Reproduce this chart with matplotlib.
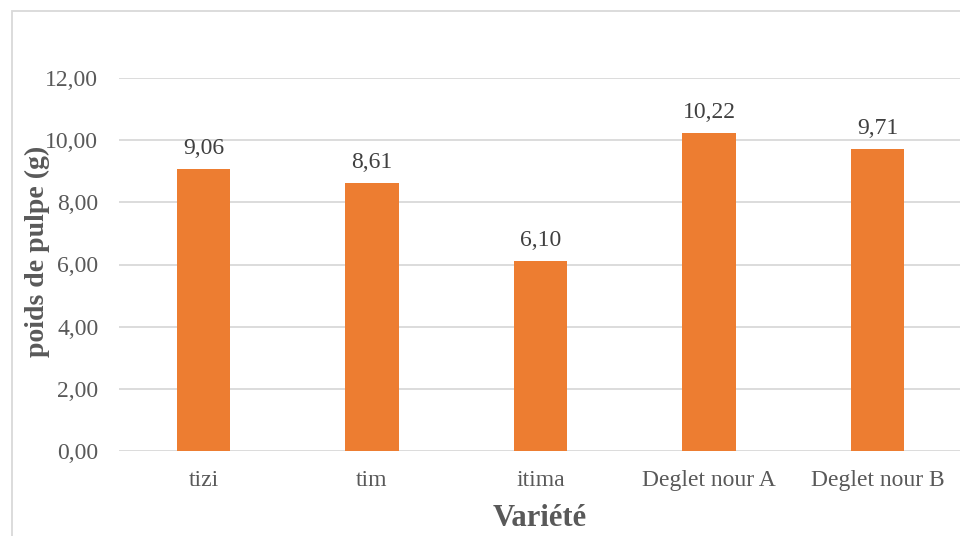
import matplotlib
matplotlib.use('Agg')
import matplotlib.pyplot as plt
from matplotlib.patches import Rectangle

# police type Times (Liberation Serif)
plt.rcParams['font.family'] = ['Liberation Serif', 'DejaVu Serif']

varietes = ['tizi', 'tim', 'itima', 'Deglet nour A', 'Deglet nour B']
poids = [9.06, 8.61, 6.10, 10.22, 9.71]
yticks = [0, 2, 4, 6, 8, 10, 12]

ORANGE = '#ED7D31'
GRIS_TXT = '#595959'
GRIS_GRILLE = '#D9D9D9'

W, H = 960, 536
fig = plt.figure(figsize=(W / 100, H / 100), dpi=100)
fig.patch.set_facecolor('white')

# zone de trace (en pixels -> fractions)
x0, x1 = 119.25, 961.75
y0, y1 = 451, 78
ax = fig.add_axes([x0 / W, 1 - y0 / H, (x1 - x0) / W, (y0 - y1) / H])

pos = list(range(len(varietes)))
ax.bar(pos, poids, width=0.315, color=ORANGE, zorder=3)

ax.set_xlim(-0.5, len(varietes) - 0.5)
ax.set_ylim(0, 12)
ax.set_yticks(yticks)
ax.set_yticklabels([f"{v:.2f}".replace('.', ',') for v in yticks])
ax.set_xticks(pos)
ax.set_xticklabels(varietes)

ax.grid(axis='y', color=GRIS_GRILLE, linewidth=1.3, zorder=0)
ax.set_axisbelow(True)
for s in ax.spines.values():
    s.set_visible(False)
ax.tick_params(axis='both', length=0, labelsize=17, labelcolor=GRIS_TXT)
ax.tick_params(axis='y', pad=15)
ax.tick_params(axis='x', pad=14)

# etiquettes de valeurs
for p, v in zip(pos, poids):
    ax.annotate(f"{v:.2f}".replace('.', ','), (p, v), xytext=(0, 11),
                textcoords='offset points', ha='center', va='baseline',
                fontsize=17, color='#404040')

# titres des axes
fig.text(37 / W, 1 - 251 / H, 'poids de pulpe (g)', rotation=90,
         ha='center', va='center', fontsize=20, fontweight='bold', color=GRIS_TXT)
fig.text(540 / W, 1 - 519 / H, 'Variété', ha='center', va='center',
         fontsize=22, fontweight='bold', color=GRIS_TXT)

# cadre du graphique
cadre = Rectangle((11.5 / W, -0.1), 1.2, 1.1 - 11.5 / H, transform=fig.transFigure,
                  fill=False, edgecolor=GRIS_GRILLE, linewidth=1.3, clip_on=False)
fig.patches.append(cadre)

fig.savefig('out.png', dpi=100)
